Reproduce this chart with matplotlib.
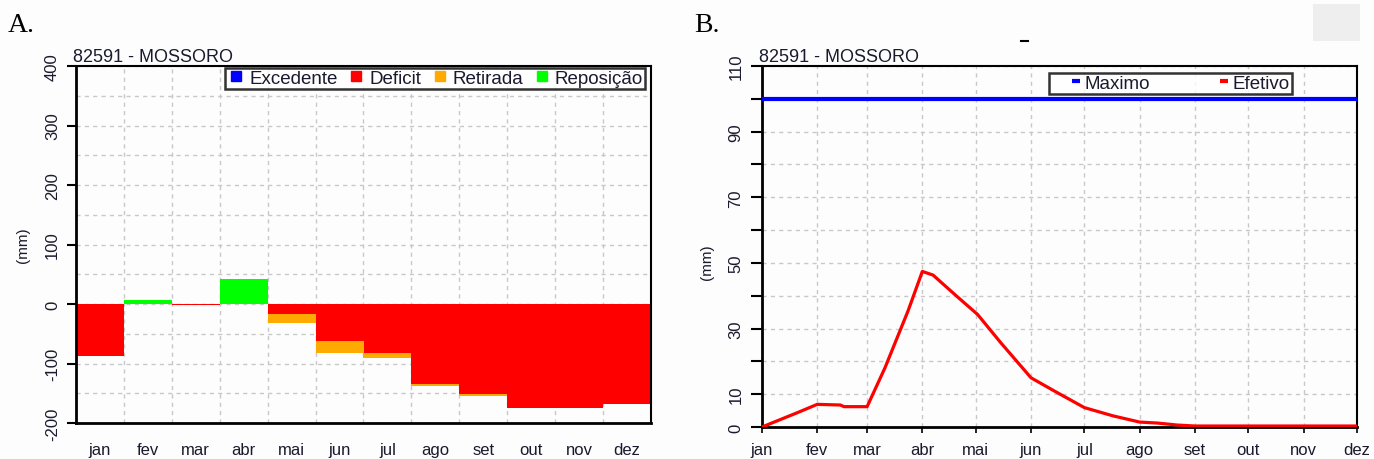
import matplotlib
matplotlib.use("Agg")
import matplotlib.pyplot as plt
from matplotlib.lines import Line2D
from matplotlib.patches import Rectangle
from matplotlib.ticker import MultipleLocator, FixedLocator

# ---------------- data ----------------
months = ['jan', 'fev', 'mar', 'abr', 'mai', 'jun', 'jul', 'ago', 'set', 'out', 'nov', 'dez']
excedente = [0, 0, 0, 0, 0, 0, 0, 0, 0, 0, 0, 0]
deficit = [-88, 0, -2, 0, -16, -63, -82, -134, -152, -174, -174, -168]
retirada = [0, 0, 0, 0, -16, -19, -9, -3, -2, 0, 0, 0]
reposicao = [0, 6, 0, 42, 0, 0, 0, 0, 0, 0, 0, 0]

month_start_days = [0, 31, 59, 90, 120, 151, 181, 212, 243, 273, 304, 334]
efetivo_days = [0, 20, 31, 44, 46, 59, 69, 82, 90, 96, 109, 121, 134, 151, 164, 181,
                197, 212, 222, 233, 243, 334]
efetivo_vals = [0, 4.4, 6.9, 6.7, 6.2, 6.2, 18, 35.4, 47.4, 46.3, 40, 34.3, 25.7, 15,
                11, 5.9, 3.4, 1.5, 1.2, 0.6, 0.3, 0.3]
maximo = 100

station = "82591 - MOSSORO"

# ---------------- style ----------------
plt.rcParams['font.family'] = ['Liberation Sans', 'DejaVu Sans']
plt.rcParams['axes.unicode_minus'] = False
RED, ORANGE, GREEN, BLUE = '#ff0000', '#ffaa00', '#00ff00', '#0000ff'
GRID = dict(color='#c8c8c8', linestyle=(0, (3, 3)), linewidth=1.0)
TXT = '#1a1a2e'
FS = 12
FST = 13
FSL = 13.5

fig = plt.figure(figsize=(13.74, 4.6), dpi=100)
fig.patch.set_facecolor('#fdfdfd')

W, H = 1374, 460
def ax_rect(l, r, t, b):
    return [l / W, 1 - b / H, (r - l) / W, (b - t) / H]

# ---------------- Panel A ----------------
axA = fig.add_axes(ax_rect(76, 651, 67, 424))
axA.set_facecolor('#fdfdfd')
x = list(range(len(months)))
axA.bar(x, excedente, width=1.0, color=BLUE, linewidth=0, zorder=2)
axA.bar(x, deficit, width=1.0, color=RED, linewidth=0, zorder=2)
axA.bar(x, retirada, width=1.0, bottom=deficit, color=ORANGE, linewidth=0, zorder=2)
axA.bar(x, reposicao, width=1.0, color=GREEN, linewidth=0, zorder=2)
axA.set_xlim(-0.5, len(months) - 0.5)
axA.set_ylim(-200, 400)
axA.yaxis.set_major_locator(MultipleLocator(100))
axA.yaxis.set_minor_locator(MultipleLocator(50))
axA.xaxis.set_major_locator(FixedLocator(x))
axA.set_xticklabels(months)
axA.xaxis.set_minor_locator(FixedLocator([i + 0.5 for i in range(len(months) - 1)]))
axA.grid(True, which='both', axis='y', **GRID, zorder=0)
axA.grid(True, which='minor', axis='x', **GRID, zorder=0)
axA.set_axisbelow(True)
axA.tick_params(axis='x', which='both', length=0, pad=14, labelsize=FS, labelcolor=TXT)
axA.tick_params(axis='y', which='major', length=6.5, width=1.5, pad=5, labelsize=FS,
                labelcolor=TXT, labelrotation=90)
axA.tick_params(axis='y', which='minor', length=0)
for lab in axA.get_yticklabels():
    lab.set_va('center')
for s in ['left', 'bottom']:
    axA.spines[s].set_linewidth(2)
for s in ['top', 'right']:
    axA.spines[s].set_linewidth(1.5)
for s in axA.spines.values():
    s.set_color('black')

handlesA = [Line2D([], [], marker='s', linestyle='none', markersize=6.5, color=c)
            for c in [BLUE, RED, ORANGE, GREEN]]
legA = axA.legend(handlesA, ['Excedente', 'Deficit', 'Retirada', 'Reposição'],
                  loc='upper right', bbox_to_anchor=((645 - 76) / (651 - 76), 1 - 2 / 357),
                  ncol=4, frameon=True, fancybox=False,
                  fontsize=FSL, borderpad=0.1, handletextpad=0.2, columnspacing=0.48,
                  handlelength=1.0, borderaxespad=0)
legA.get_frame().set_edgecolor('black')
legA.get_frame().set_linewidth(1.8)
for t in legA.get_texts():
    t.set_color(TXT)

fig.text(73 / W, 1 - 57 / H, station, fontsize=FST, color=TXT, va='center', ha='left')
fig.text(23 / W, 1 - 245 / H, '(mm)', fontsize=11, color=TXT, rotation=90,
         va='center', ha='center')
fig.text(8 / W, 1 - 25 / H, 'A.', fontsize=20, family='Liberation Serif', va='center', ha='left')

# ---------------- Panel B ----------------
axB = fig.add_axes(ax_rect(762, 1357, 67, 428))
axB.set_facecolor('#fdfdfd')
axB.axhline(maximo, color=BLUE, linewidth=3, zorder=3)
axB.plot(efetivo_days, efetivo_vals, color=RED, linewidth=2.3, zorder=3)
axB.set_xlim(month_start_days[0], month_start_days[-1])
axB.set_ylim(0, 110)
axB.xaxis.set_major_locator(FixedLocator(month_start_days))
axB.set_xticklabels(months)
axB.yaxis.set_major_locator(FixedLocator(list(range(0, 111, 10))))
axB.set_yticklabels([str(v) if v in (0, 10, 30, 50, 70, 90, 110) else '' for v in range(0, 111, 10)])
axB.grid(True, which='major', **GRID, zorder=0)
axB.set_axisbelow(True)
axB.tick_params(axis='x', length=4.5, width=1.2, pad=6, labelsize=FS, labelcolor=TXT)
axB.tick_params(axis='y', length=8, width=1.5, pad=5.5, labelsize=FS, labelcolor=TXT,
                labelrotation=90)
for lab in axB.get_yticklabels():
    lab.set_va('center')
for s in ['left', 'bottom']:
    axB.spines[s].set_linewidth(2)
for s in ['top', 'right']:
    axB.spines[s].set_linewidth(1.5)
for s in axB.spines.values():
    s.set_color('black')

handlesB = [Line2D([], [], marker='_', linestyle='none', markersize=6, markeredgewidth=3, color=c)
            for c in [BLUE, RED]]
legB = axB.legend(handlesB, ['Maximo', 'Efetivo'], loc='upper right',
                  bbox_to_anchor=((1292 - 762) / (1357 - 762), 1 - 7 / 361),
                  ncol=2, frameon=True, fancybox=False, fontsize=FSL, borderpad=0.1,
                  handletextpad=-0.8, columnspacing=2.6, handlelength=2.6, borderaxespad=0)
legB.get_frame().set_edgecolor('black')
legB.get_frame().set_linewidth(1.8)
for t in legB.get_texts():
    t.set_color(TXT)

fig.text(759 / W, 1 - 57 / H, station, fontsize=FST, color=TXT, va='center', ha='left')
fig.text(707 / W, 1 - 262 / H, '(mm)', fontsize=11, color=TXT, rotation=90,
         va='center', ha='center')
fig.text(694 / W, 1 - 25 / H, 'B.', fontsize=20, family='Liberation Serif', va='center', ha='left')
fig.lines.append(Line2D([1021 / W, 1028 / W], [1 - 42 / H, 1 - 42 / H],
                        transform=fig.transFigure, color='black', linewidth=1.5))
fig.patches.append(Rectangle((1313 / W, 1 - 42 / H), 47 / W, 37 / H,
                             transform=fig.transFigure, facecolor='#eeeeee',
                             edgecolor='none'))

fig.savefig('out.png', dpi=100, facecolor=fig.get_facecolor())
